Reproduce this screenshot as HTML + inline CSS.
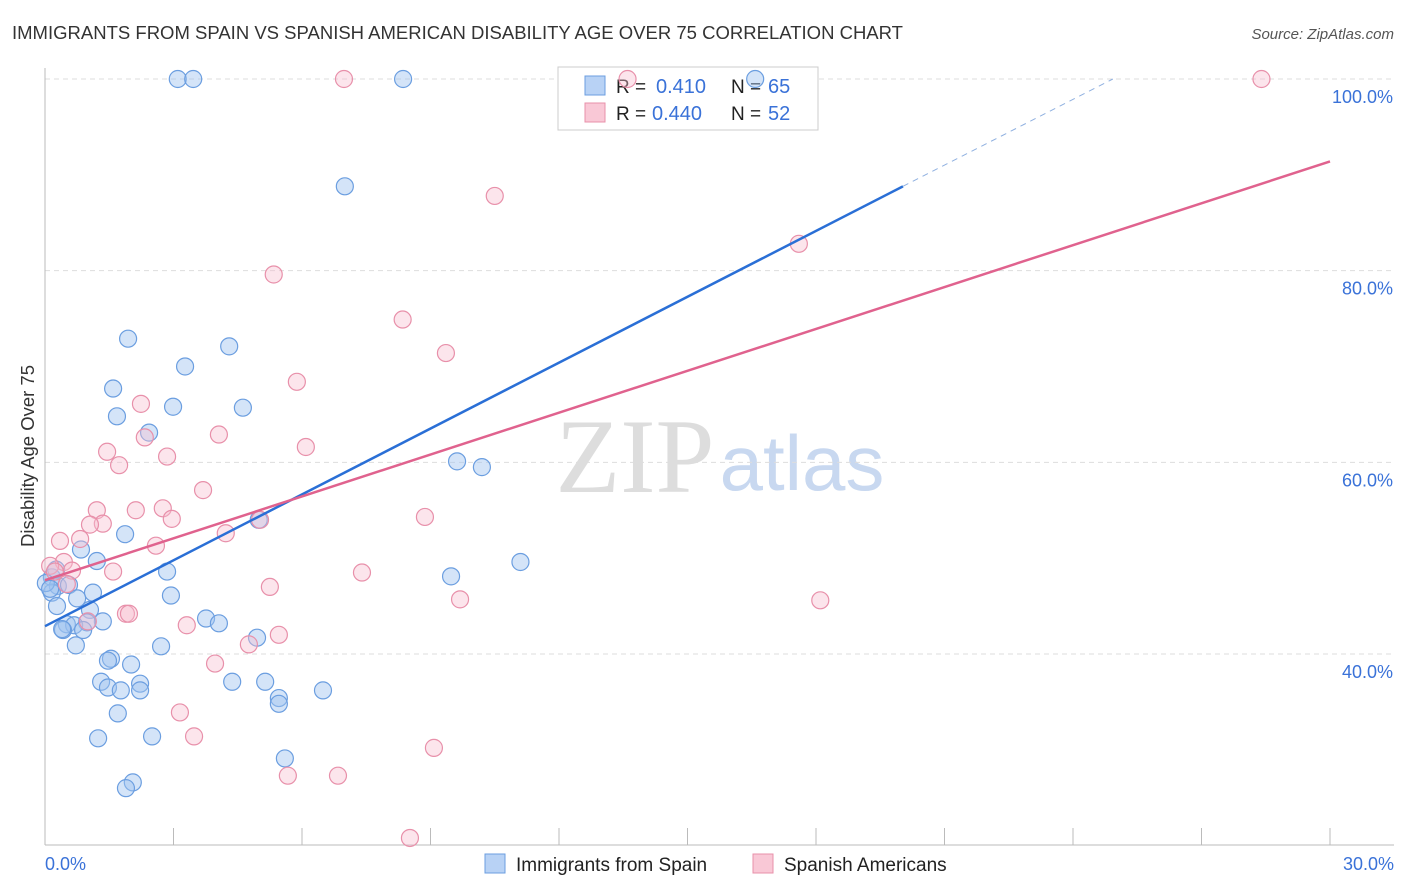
<!DOCTYPE html>
<html><head><meta charset="utf-8"><style>
body{margin:0;background:#fff;font-family:"Liberation Sans",sans-serif;}
svg{display:block}
</style></head><body>
<svg id="chart" width="1406" height="892">
<text x="12" y="39" font-size="18" fill="#333" textLength="891" lengthAdjust="spacingAndGlyphs">IMMIGRANTS FROM SPAIN VS SPANISH AMERICAN DISABILITY AGE OVER 75 CORRELATION CHART</text>
<text x="1394" y="39" font-size="15" fill="#555" font-style="italic" text-anchor="end">Source: ZipAtlas.com</text>
<text x="34" y="456" font-size="18.5" fill="#333" text-anchor="middle" transform="rotate(-90 34 456)">Disability Age Over 75</text>
<text x="635" y="492" font-size="106" fill="#ddd" font-family="Liberation Serif,serif" text-anchor="middle">ZIP</text>
<text x="802" y="490" font-size="78" fill="#c8d8f0" text-anchor="middle">atlas</text>
<g id="grid"></g>
<g>
<rect x="558" y="67" width="260" height="63" fill="#fff" stroke="#ccc"/>
<rect x="585" y="76" width="20" height="19" fill="#b8d2f5" stroke="#6b9ee0"/>
<rect x="585" y="103" width="20" height="19" fill="#f9c8d6" stroke="#e890aa"/>
<text x="616" y="93" font-size="19" fill="#222">R =</text><text x="656" y="93" font-size="20" fill="#3a72d8">0.410</text>
<text x="731" y="93" font-size="19" fill="#222">N =</text><text x="768" y="93" font-size="20" fill="#3a72d8">65</text>
<text x="616" y="120" font-size="19" fill="#222">R =</text><text x="652" y="120" font-size="20" fill="#3a72d8">0.440</text>
<text x="731" y="120" font-size="19" fill="#222">N =</text><text x="768" y="120" font-size="20" fill="#3a72d8">52</text>
</g>
<g id="pts"></g><g id="lines"></g>
<g>
<rect x="485" y="854" width="20" height="19" fill="#b8d2f5" stroke="#6b9ee0"/>
<text x="516" y="871" font-size="19" fill="#222">Immigrants from Spain</text>
<rect x="753" y="854" width="20" height="19" fill="#f9c8d6" stroke="#e890aa"/>
<text x="784" y="871" font-size="19" fill="#222">Spanish Americans</text>
</g>
<text x="45" y="870" font-size="18" fill="#3a72d8">0.0%</text>
<text x="1394" y="870" font-size="18" fill="#3a72d8" text-anchor="end">30.0%</text>
</svg>
<script>
const blueX=[3.10,3.46,8.36,16.58,7.0,1.94,3.27,4.30,1.59,1.68,2.99,4.62,2.43,9.62,10.2,1.87,4.99,0.84,1.21,11.1,9.48,2.85,0.16,0.30,0.56,0.16,1.12,0.75,2.94,0.28,1.05,3.76,4.06,1.35,0.98,0.51,0.68,0.42,0.89,0.40,0.72,2.71,4.95,1.54,1.47,2.01,1.31,1.47,2.22,1.77,2.22,4.37,5.14,5.46,5.46,6.49,1.70,2.50,1.24,5.60,2.05,1.89,0.02,0.12,0.26];
const blueY=[100,100,100,100,88.8,72.9,70.0,72.1,67.7,64.8,65.8,65.7,63.1,60.1,59.5,52.5,54.0,50.9,49.7,49.6,48.1,48.6,48.0,47.1,47.2,46.4,46.4,45.8,46.1,45.0,44.6,43.7,43.2,43.4,43.3,43.1,43.0,42.5,42.5,42.6,40.9,40.8,41.7,39.5,39.3,38.9,37.1,36.5,36.9,36.2,36.2,37.1,37.1,35.4,34.8,36.2,33.8,31.4,31.2,29.1,26.6,26.0,47.4,46.8,48.8];
const pinkX=[6.98,13.6,28.4,10.5,17.6,5.34,8.35,9.36,5.88,2.24,4.06,6.09,1.45,2.85,2.33,1.73,3.69,1.21,2.12,2.75,1.35,1.05,2.96,8.87,5.02,4.22,0.35,0.82,2.59,0.44,1.59,0.63,5.25,7.40,9.69,18.1,1.89,1.96,3.31,5.46,4.76,3.97,3.15,3.48,9.08,5.67,6.84,8.52,0.12,0.23,0.51,1.00];
const pinkY=[100,100,100,87.8,82.8,79.6,74.9,71.4,68.4,66.1,62.9,61.6,61.1,60.6,62.6,59.7,57.1,55.0,55.0,55.2,53.6,53.5,54.1,54.3,54.0,52.6,51.8,52.0,51.3,49.6,48.6,48.7,47.0,48.5,45.7,45.6,44.2,44.2,43.0,42.0,41.0,39.0,33.9,31.4,30.2,27.3,27.3,20.8,49.2,48.6,47.3,43.4];
const yTicks=[100,80,60,40];
const blueLine=[[0,42.9],[20.03,88.8]];
const blueDash=[[20.03,88.8],[24.93,100]];
const pinkLine=[[0,47.7],[30,91.4]];
const NS='http://www.w3.org/2000/svg';
const sx=v=>45+v/30*1285, sy=v=>79+(100-v)*9.583;
function mk(t,a,p){const e=document.createElementNS(NS,t);for(const k in a)e.setAttribute(k,a[k]);p.appendChild(e);return e;}
const g=document.getElementById('grid');
yTicks.forEach(v=>{
 const l=mk('line',{x1:45,x2:1394,y1:sy(v),y2:sy(v),stroke:'#ddd','stroke-dasharray':'5,4'},g);
 
 
 const t=mk('text',{x:1393,y:sy(v)+24,'font-size':18,fill:'#3a72d8','text-anchor':'end'},g);
 t.textContent=v.toFixed(1)+'%';
 
 
});
mk('line',{x1:45,x2:45,y1:68,y2:845,stroke:'#bbb'},g);
mk('line',{x1:45,x2:1394,y1:845,y2:845,stroke:'#bbb'},g);
for(let i=0;i<=10;i++){const x=sx(i*3);const t=mk('line',{x1:x,x2:x,y1:828,y2:845,stroke:'#bbb'},g);
 
 }
const p=document.getElementById('pts');
blueX.forEach((x,i)=>{const c=mk('circle',{cx:sx(x),cy:sy(blueY[i]),r:8.5,fill:'rgba(160,195,240,0.45)',stroke:'#6b9ee0','stroke-width':1.2},p);
 
 });
pinkX.forEach((x,i)=>{const c=mk('circle',{cx:sx(x),cy:sy(pinkY[i]),r:8.5,fill:'rgba(248,190,208,0.4)',stroke:'#e890aa','stroke-width':1.2},p);
 
 });
const L=document.getElementById('lines');
function ln(pts,col,w,dash,name){const e=mk('line',{x1:sx(pts[0][0]),y1:sy(pts[0][1]),x2:sx(pts[1][0]),y2:sy(pts[1][1]),stroke:col,'stroke-width':w},L);if(dash)e.setAttribute('stroke-dasharray',dash);
 
 }
ln(blueLine,'#2a6fd6',2.5,null,'spain-trendline');
ln(blueDash,'#8fb0e0',1,'6,5','spain-trendline-extension');
ln(pinkLine,'#e0628e',2.5,null,'spanish-american-trendline');
</script>
</body></html>
